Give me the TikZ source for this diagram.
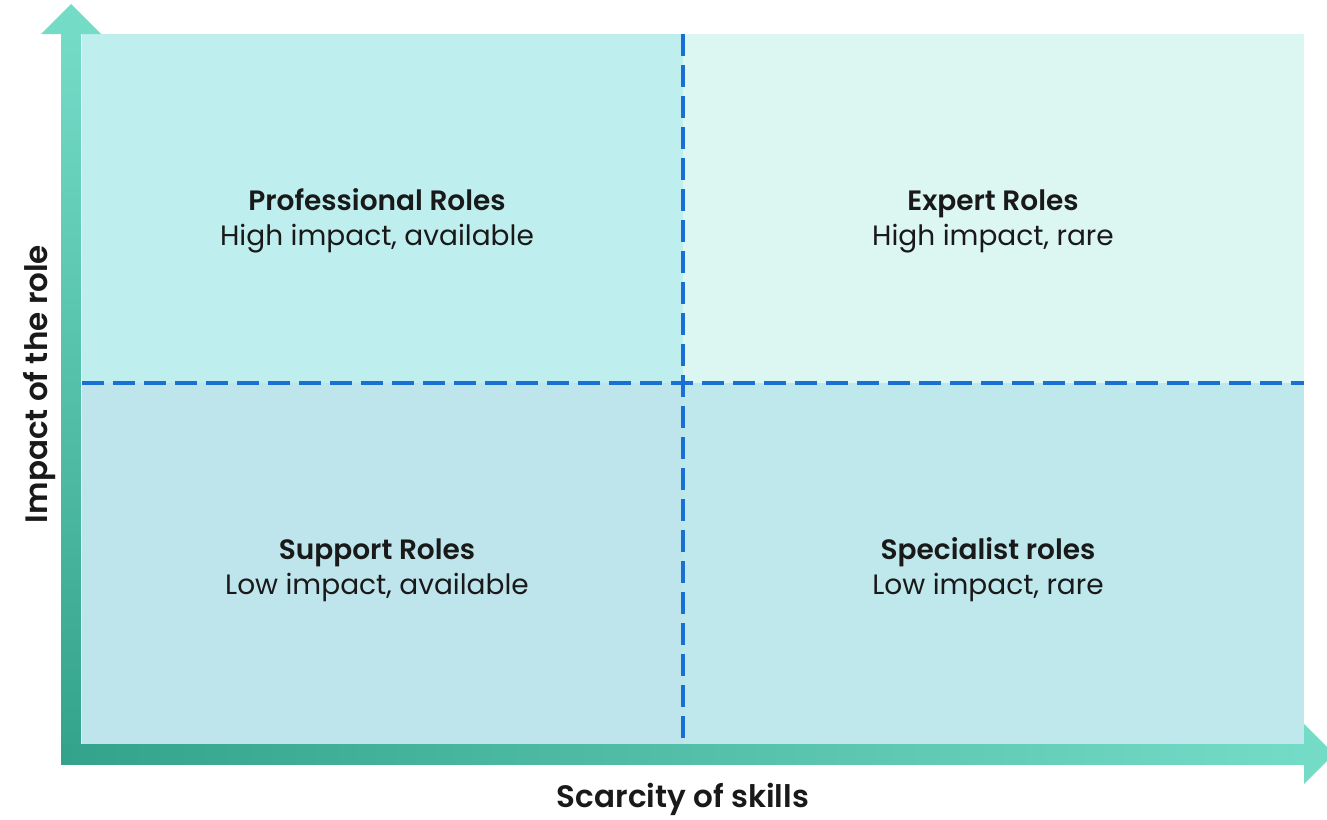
\documentclass[tikz,border=0pt]{standalone}
\usepackage{fontspec}
\setmainfont{Poppins}[BoldFont={Poppins SemiBold}]
\usetikzlibrary{calc,positioning}
\definecolor{axisdark}{HTML}{33A38B}
\definecolor{axislight}{HTML}{74DBC7}
\definecolor{quadtl}{HTML}{BFEEEE}
\definecolor{quadtr}{HTML}{DCF6F1}
\definecolor{quadbl}{HTML}{BFE5EC}
\definecolor{quadbr}{HTML}{BFE8EC}
\definecolor{divblue}{HTML}{1A6FD4}
\begin{document}
\begin{tikzpicture}[x=1pt,y=-1pt,
  quadlabel/.style={align=center,text=black!90,font=\fontsize{28}{35}\selectfont},
  axislabel/.style={text=black!90,font=\fontsize{31}{35}\selectfont\bfseries},
  divider/.style={divblue,line width=3.5pt,dash pattern=on 22pt off 9pt}]
\useasboundingbox (0,0) rectangle (1327,819);
% quadrants
\fill[quadtl] (82,34) rectangle (683,383);
\fill[quadtr] (683,34) rectangle (1304,383);
\fill[quadbl] (82,383) rectangle (683,744);
\fill[quadbr] (683,383) rectangle (1304,744);
% dividers
\coordinate (top) at (683,34);
\coordinate (bottom) at (683,744);
\coordinate (left) at (82,383);
\coordinate (right) at (1304,383);
\draw[divider] (top) -- (bottom);
\draw[divider] (left) -- (right);
% axes
\shade[top color=axislight,bottom color=axisdark] (61,34) rectangle (81,764);
\shade[left color=axisdark,right color=axislight] (61,744) rectangle (1304,764);
\fill[axislight] (41,34) -- (71,4) -- (101,34) -- cycle;
\fill[axislight] (1304,724) -- (1334,754) -- (1304,784) -- cycle;
% labels
\node[quadlabel] (prof) at (377,221) {\textbf{Professional Roles}\\High impact, available};
\node[quadlabel] (expert) at (993,221) {\textbf{Expert Roles}\\High impact, rare};
\node[quadlabel] (support) at (377,570) {\textbf{Support Roles}\\Low impact, available};
\node[quadlabel] (special) at (988,570) {\textbf{Specialist roles}\\Low impact, rare};
\node[axislabel,rotate=90,anchor=base] (yaxis) at (47,384) {Impact of the role};
\node[axislabel,anchor=base] (xaxis) at (683,807) {Scarcity of skills};
\end{tikzpicture}
\end{document}
